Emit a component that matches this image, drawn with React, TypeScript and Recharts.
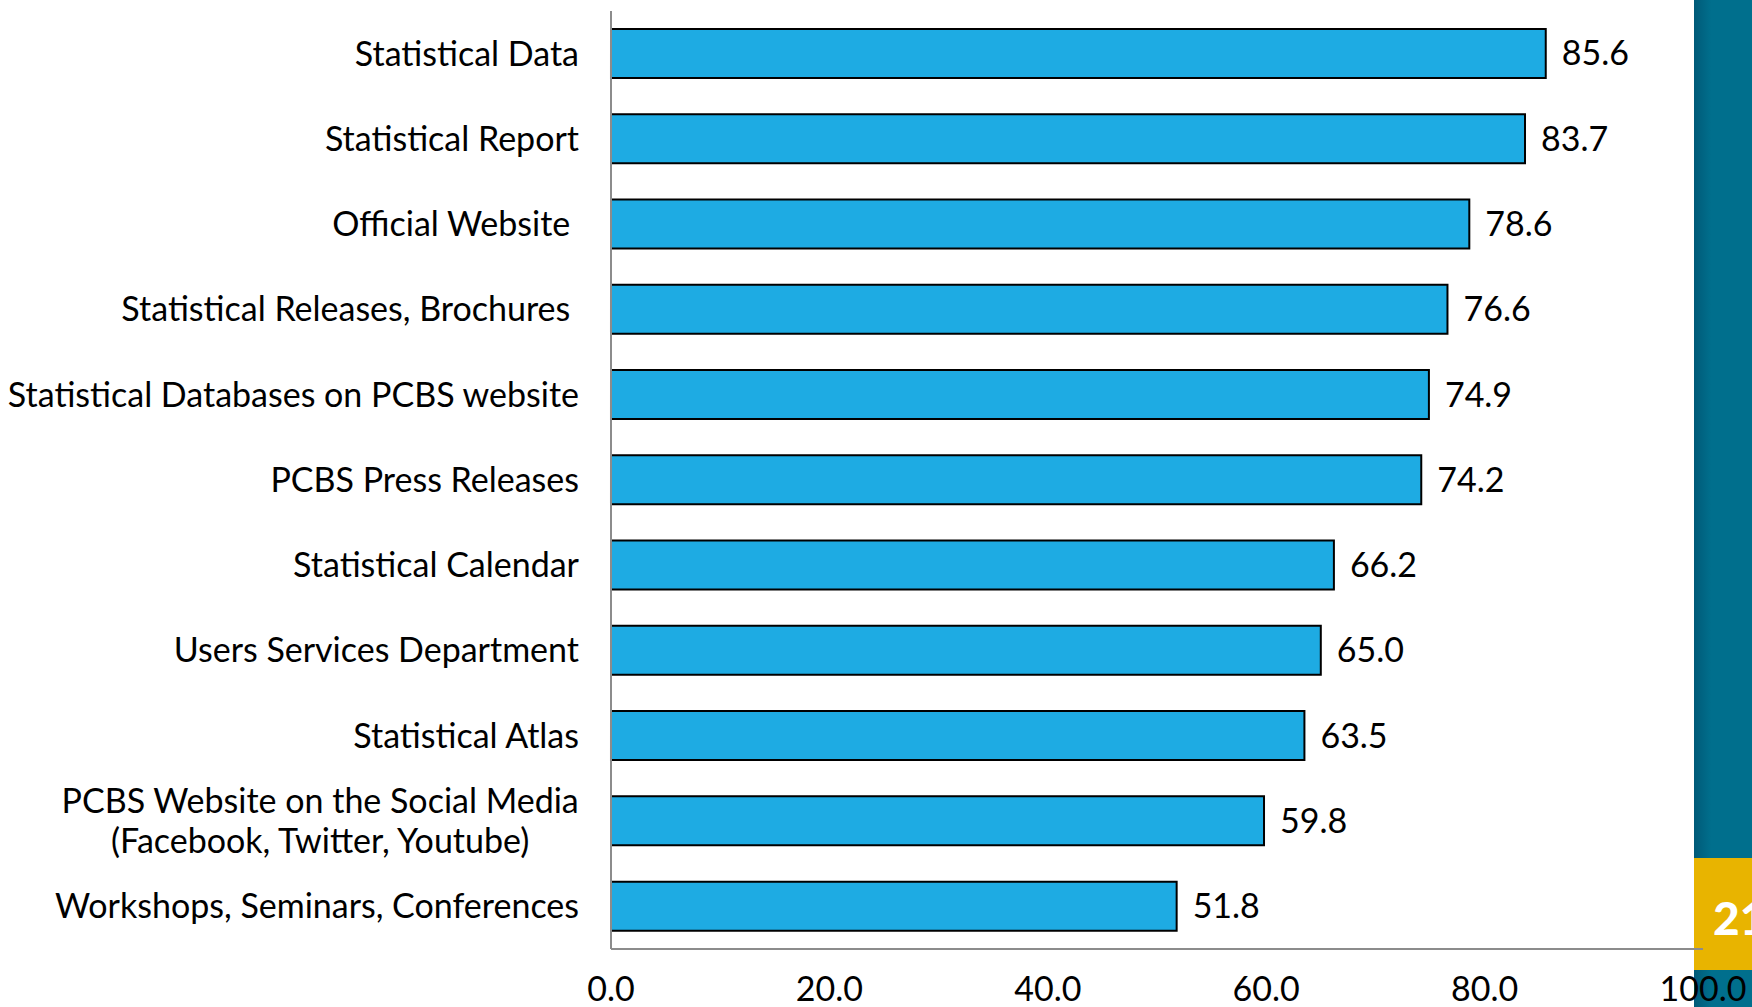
import React from "react";
import { BarChart, Bar, XAxis, YAxis, LabelList } from "recharts";

const categories = [
  "Statistical Data",
  "Statistical Report",
  "Official Website ",
  "Statistical Releases, Brochures ",
  "Statistical Databases on PCBS website",
  "PCBS Press Releases",
  "Statistical Calendar",
  "Users Services Department",
  "Statistical Atlas",
  "PCBS Website on the Social Media\n(Facebook, Twitter, Youtube)",
  "Workshops, Seminars, Conferences",
];

const values = [85.6, 83.7, 78.6, 76.6, 74.9, 74.2, 66.2, 65.0, 63.5, 59.8, 51.8];

const xTicks = [0, 20, 40, 60, 80, 100];

const data = categories.map((name, i) => ({ name, value: values[i] }));

const FONT = "Lato, 'Open Sans', sans-serif";
const FONT_SIZE = 34;

let ctx: CanvasRenderingContext2D | null = null;
const measure = (s: string) => {
  if (!ctx) ctx = document.createElement("canvas").getContext("2d");
  if (!ctx) return s.length * 16;
  ctx.font = `${FONT_SIZE}px Lato`;
  return ctx.measureText(s).width;
};

const CategoryTick = ({ x, y, payload }: any) => {
  const lines = String(payload.value).split("\n");
  if (lines.length === 1) {
    return (
      <text x={x} y={y} dy="0.35em" textAnchor="end" fill="#000"
        style={{ fontFamily: FONT, fontSize: FONT_SIZE, whiteSpace: "pre" }}>
        {lines[0]}
      </text>
    );
  }
  // two-line label, lines centred on each other
  const w = Math.max(...lines.map(measure));
  const cx = x - w / 2;
  return (
    <text x={cx} y={y} textAnchor="middle" fill="#000"
      style={{ fontFamily: FONT, fontSize: FONT_SIZE }}>
      {lines.map((l, i) => (
        <tspan key={i} x={cx} dy={i === 0 ? -8 : 40}>{l}</tspan>
      ))}
    </text>
  );
};

const App = () => {
  return (
    <div style={{ position: "fixed", left: 0, top: 0, width: 1752, height: 1007, overflow: "hidden", background: "#fff" }}>
      <div style={{
        position: "absolute", left: 1694, top: 0, width: 58, height: 1007,
        background: "linear-gradient(to right, #005a78, #006f8d 30%, #006f8d)",
      }} />
      <div style={{
        position: "absolute", left: 1694, top: 858, width: 58, height: 112,
        background: "#e8b400",
      }} />
      <div style={{
        position: "absolute", left: 1713, top: 893, color: "#fff",
        fontFamily: "Lato, sans-serif", fontWeight: 900, fontSize: 46, lineHeight: "50px",
        whiteSpace: "nowrap",
      }}>21</div>
      <div style={{ position: "absolute", left: 0, top: 0 }}>
        <BarChart
          width={1752}
          height={1007}
          data={data}
          layout="vertical"
          margin={{ top: 11, right: 49, bottom: 0, left: 0 }}
          barCategoryGap="21%"
        >
          <XAxis
            type="number"
            domain={[0, 100]}
            ticks={xTicks}
            tickFormatter={(v: number) => v.toFixed(1)}
            axisLine={{ stroke: "#8c8c8c", strokeWidth: 2 }}
            tickLine={false}
            tickSize={0}
            height={58}
            tickMargin={28}
            interval={0}
            tick={{ fill: "#000", fontSize: FONT_SIZE, fontFamily: FONT }}
          />
          <YAxis
            type="category"
            dataKey="name"
            width={611}
            axisLine={{ stroke: "#8c8c8c", strokeWidth: 2 }}
            tickLine={false}
            tickSize={0}
            tickMargin={32}
            interval={0}
            tick={<CategoryTick />}
          />
          <Bar dataKey="value" fill="#1eabe3" stroke="#000" strokeWidth={2} isAnimationActive={false}>
            <LabelList
              dataKey="value"
              position="right"
              offset={16}
              formatter={(v: any) => Number(v).toFixed(1)}
              style={{ fill: "#000", fontSize: FONT_SIZE, fontFamily: FONT }}
            />
          </Bar>
        </BarChart>
      </div>
    </div>
  );
};

export default App;
